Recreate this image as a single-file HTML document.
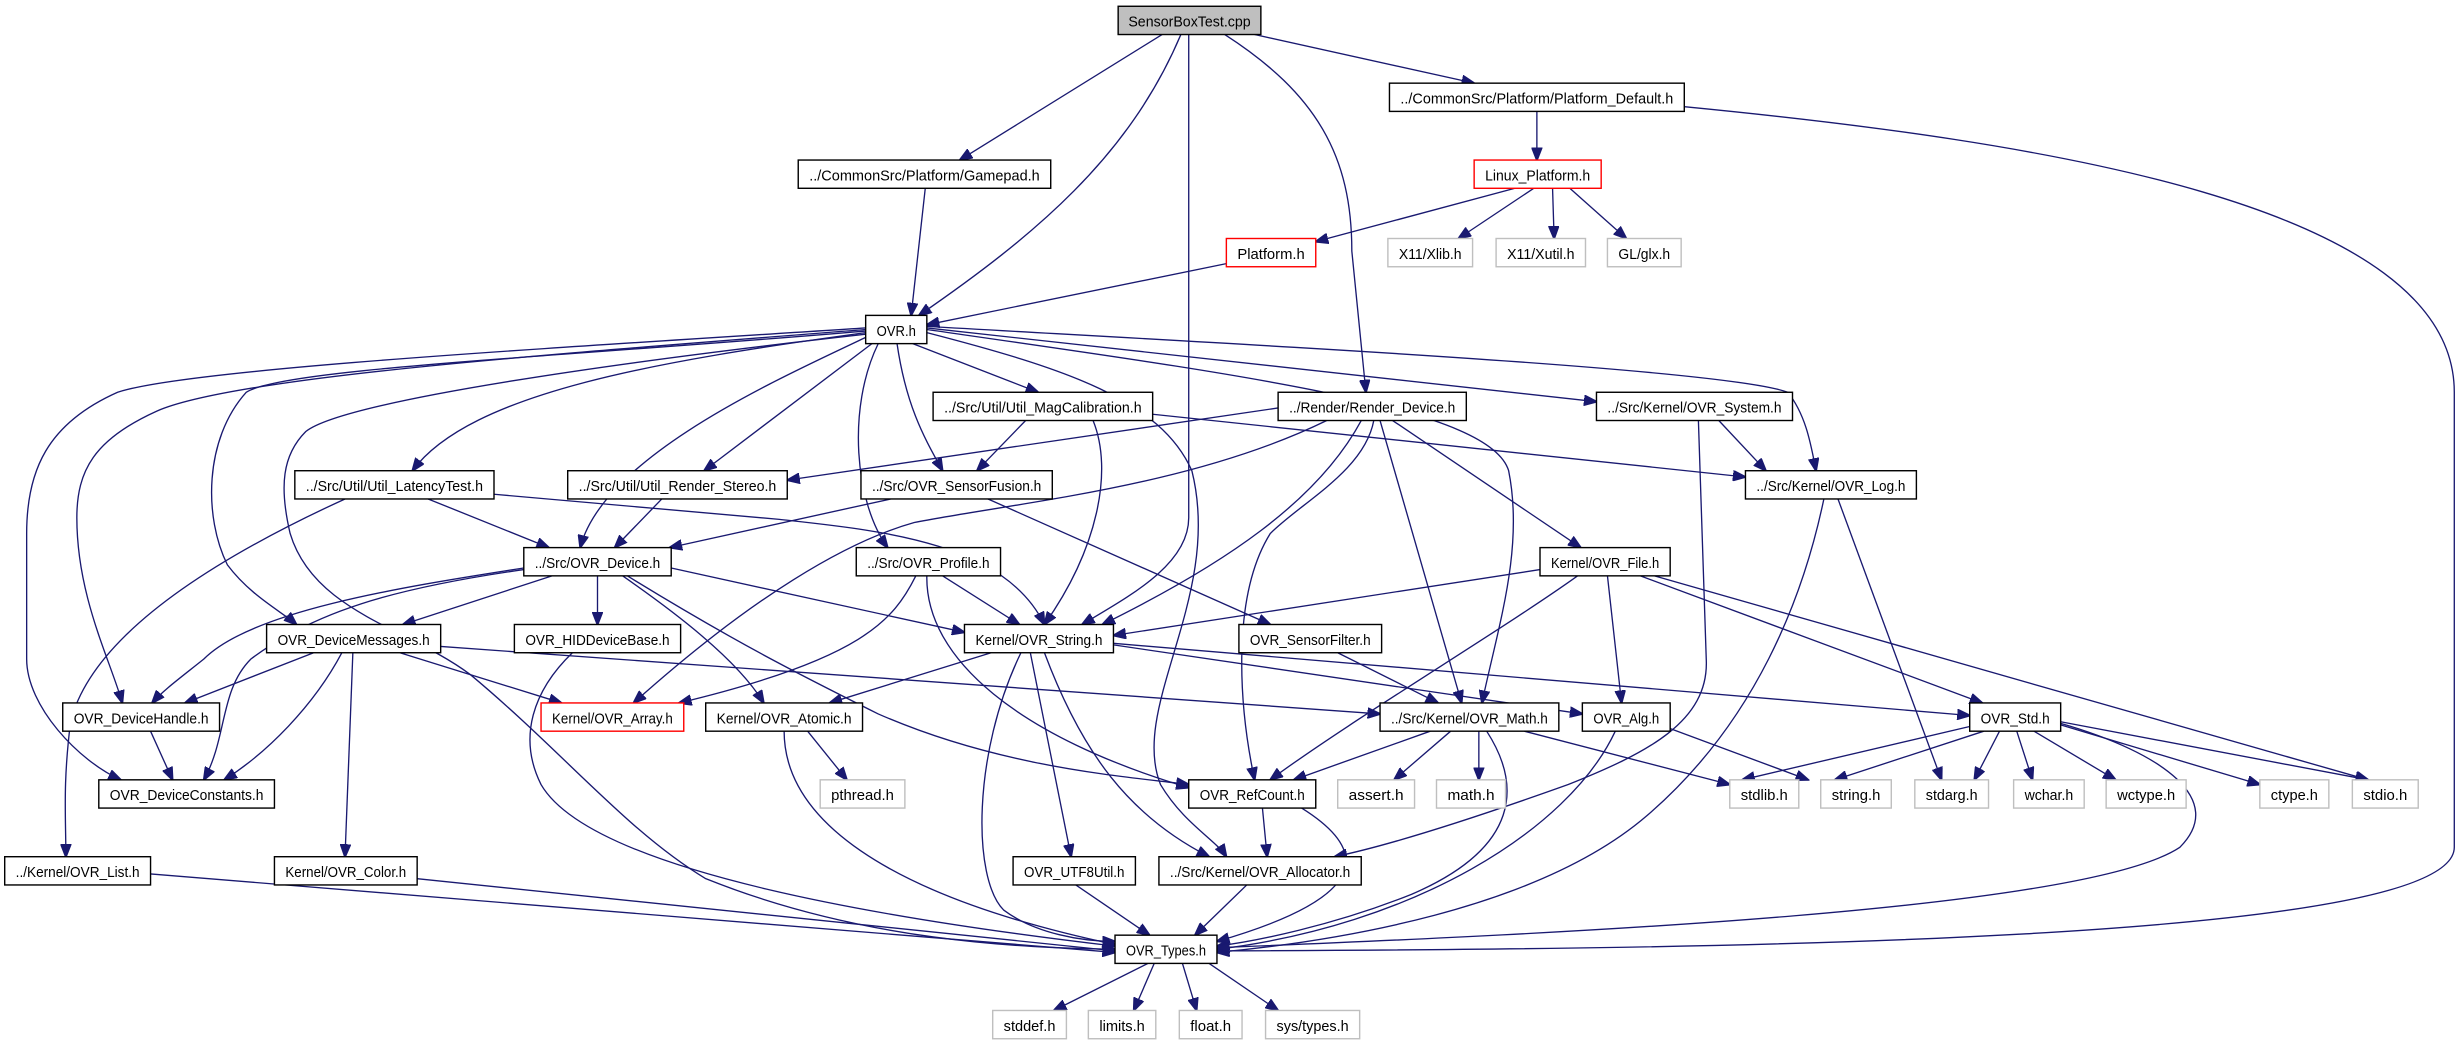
<!DOCTYPE html>
<html><head><meta charset="utf-8"><style>
html,body{margin:0;padding:0;background:#fff;}
svg{display:block;}
text{font-family:"Liberation Sans",sans-serif;font-size:9.6px;fill:#000;}
.e{fill:none;stroke:#191970;stroke-width:0.85;}
.n{fill:#fff;stroke:#000;stroke-width:0.9;}
.g{fill:#fff;stroke:#bfbfbf;stroke-width:0.9;}
.r{fill:#fff;stroke:#ff0000;stroke-width:0.9;}
</style></head><body>
<svg width="2459" height="1045" viewBox="0 0 1568 666" preserveAspectRatio="none" xmlns="http://www.w3.org/2000/svg">
<defs><marker id="a" markerUnits="userSpaceOnUse" markerWidth="9" markerHeight="7" refX="8" refY="3.5" orient="auto"><path d="M0,0 L9,3.5 L0,7 z" fill="#191970" stroke="#191970" stroke-width="0.5"/></marker></defs>
<g class="e" marker-end="url(#a)">
<path d="M741,22 L612,102"/>
<path d="M753,22 C720,100 660,150 586,201"/>
<path d="M758,22 L758,330 C758,360 720,380 690,398"/>
<path d="M781,22 C840,60 862,100 862,160 L871,250"/>
<path d="M800,22 L940,53"/>
<path d="M980,71 L980,102"/>
<path d="M1074,68 C1300,90 1565,130 1565,250 L1565,540 C1565,600 1100,605 776,606"/>
<path d="M966,120 L839,154"/>
<path d="M978,120 L930,152"/>
<path d="M990,120 L991,152"/>
<path d="M1001,120 L1037,152"/>
<path d="M782,168 L591,207"/>
<path d="M590,120 L581,201"/>
<path d="M582,219 L662,250"/>
<path d="M556,219 L449,300"/>
<path d="M572,219 C578,260 590,280 601,300"/>
<path d="M552,212 C420,230 300,250 263,300"/>
<path d="M552,215 C500,240 385,290 370,349"/>
<path d="M560,219 C540,260 545,320 566,349"/>
<path d="M552,211 C350,228 180,235 157,250 C130,280 130,330 145,360 C160,380 180,390 189,398"/>
<path d="M552,210 C350,226 150,240 100,262 C60,280 49,300 49,330 C49,380 70,420 78,448"/>
<path d="M552,209 C350,222 120,235 75,250 C30,270 17,300 17,340 L17,420 C17,450 50,485 77,497"/>
<path d="M552,213 C400,230 220,255 195,275 C180,290 178,310 185,340 C200,390 260,400 300,430 C360,480 400,530 450,560 C550,600 650,604 711,605"/>
<path d="M591,209 L1018,256"/>
<path d="M591,208 C800,220 1100,235 1140,250 C1152,265 1155,285 1158,300"/>
<path d="M591,210 C800,240 950,260 962,300 C972,350 955,400 945,448"/>
<path d="M591,212 C680,235 740,255 760,300 C780,380 720,450 740,500 C755,525 775,535 782,546"/>
<path d="M815,260 L502,306"/>
<path d="M846,268 C760,310 650,320 583,333 C540,345 480,380 404,448"/>
<path d="M868,268 C840,320 780,360 703,398"/>
<path d="M876,268 C870,300 830,320 810,340 C785,380 790,450 800,497"/>
<path d="M880,268 L932,448"/>
<path d="M888,268 L1008,349"/>
<path d="M654,268 L623,300"/>
<path d="M697,268 C710,300 700,350 666,398"/>
<path d="M735,264 L1113,304"/>
<path d="M1096,268 L1126,300"/>
<path d="M1083,268 L1088,420 C1090,460 1050,480 1000,500 C930,525 880,540 851,546"/>
<path d="M1163,318 C1150,380 1120,460 1050,520 C980,580 850,600 776,607"/>
<path d="M1172,318 L1238,497"/>
<path d="M273,318 L350,349"/>
<path d="M315,315 L497,331 C560,338 640,345 666,398"/>
<path d="M220,318 C150,350 60,400 45,460 C40,500 42,520 42,546"/>
<path d="M422,318 L392,349"/>
<path d="M568,318 L427,349"/>
<path d="M630,318 L810,398"/>
<path d="M352,367 L257,398"/>
<path d="M381,367 L381,398"/>
<path d="M334,362 C250,375 160,390 130,420 C115,432 104,440 97,448"/>
<path d="M334,363 C250,375 200,390 160,420 C140,440 145,470 130,497"/>
<path d="M397,367 C430,390 470,420 487,448"/>
<path d="M400,367 C470,410 510,430 560,455 C640,490 720,495 758,500"/>
<path d="M428,362 L615,403"/>
<path d="M601,367 L650,398"/>
<path d="M584,367 C570,395 550,420 433,448"/>
<path d="M591,367 C590,420 650,470 758,502"/>
<path d="M982,363 L710,405"/>
<path d="M1006,367 C960,400 860,460 810,497"/>
<path d="M1025,367 L1034,448"/>
<path d="M1046,367 L1264,448"/>
<path d="M1055,367 L1510,497"/>
<path d="M200,416 L118,448"/>
<path d="M218,416 C200,450 170,480 143,497"/>
<path d="M225,416 L220,546"/>
<path d="M255,416 L358,448"/>
<path d="M281,412 L880,455"/>
<path d="M365,416 C340,440 330,470 345,500 C380,560 600,590 711,603"/>
<path d="M632,416 L529,448"/>
<path d="M651,416 C620,480 620,560 640,580 C660,595 690,600 711,600"/>
<path d="M657,416 L683,546"/>
<path d="M666,416 C690,480 720,520 771,546"/>
<path d="M710,411 L1009,455"/>
<path d="M710,410 L1256,456"/>
<path d="M853,416 L917,448"/>
<path d="M912,466 L825,497"/>
<path d="M925,466 L889,497"/>
<path d="M943,466 L943,497"/>
<path d="M948,466 C970,500 970,540 900,570 C850,590 800,600 776,603"/>
<path d="M972,466 L1103,500"/>
<path d="M1030,466 C1000,530 900,590 776,605"/>
<path d="M1064,464 L1153,497"/>
<path d="M1256,463 L1111,497"/>
<path d="M1265,466 L1170,497"/>
<path d="M1275,466 L1259,497"/>
<path d="M1286,466 L1296,497"/>
<path d="M1297,466 L1349,497"/>
<path d="M1314,462 L1441,500"/>
<path d="M1314,460 L1510,497"/>
<path d="M1314,461 C1380,480 1420,510 1390,540 C1330,580 1000,595 776,604"/>
<path d="M96,466 L110,497"/>
<path d="M515,466 L540,497"/>
<path d="M500,466 C500,520 560,570 711,602"/>
<path d="M805,515 L808,546"/>
<path d="M830,515 C870,540 880,570 776,600"/>
<path d="M96,557 L711,607"/>
<path d="M266,560 L711,606"/>
<path d="M686,564 L733,596"/>
<path d="M795,564 L762,596"/>
<path d="M732,614 L672,644"/>
<path d="M736,614 L723,644"/>
<path d="M754,614 L763,644"/>
<path d="M771,614 L815,644"/>
</g>
<g text-anchor="middle">
<rect x="713" y="4" width="91" height="18" fill="#bfbfbf" stroke="#000" stroke-width="0.9"/><text x="758.5" y="17" textLength="78" lengthAdjust="spacingAndGlyphs">SensorBoxTest.cpp</text>
<rect class="n" x="886" y="53" width="188" height="18"/><text x="980" y="66" textLength="174" lengthAdjust="spacingAndGlyphs">../CommonSrc/Platform/Platform_Default.h</text>
<rect class="n" x="509" y="102" width="161" height="18"/><text x="589.5" y="115" textLength="147" lengthAdjust="spacingAndGlyphs">../CommonSrc/Platform/Gamepad.h</text>
<rect class="r" x="940" y="102" width="81" height="18"/><text x="980.5" y="115" textLength="67" lengthAdjust="spacingAndGlyphs">Linux_Platform.h</text>
<rect class="r" x="782" y="152" width="57" height="18"/><text x="810.5" y="165" textLength="43" lengthAdjust="spacingAndGlyphs">Platform.h</text>
<rect class="g" x="885" y="152" width="54" height="18"/><text x="912" y="165" textLength="40" lengthAdjust="spacingAndGlyphs">X11/Xlib.h</text>
<rect class="g" x="954" y="152" width="57" height="18"/><text x="982.5" y="165" textLength="43" lengthAdjust="spacingAndGlyphs">X11/Xutil.h</text>
<rect class="g" x="1025" y="152" width="47" height="18"/><text x="1048.5" y="165" textLength="33" lengthAdjust="spacingAndGlyphs">GL/glx.h</text>
<rect class="n" x="552" y="201" width="39" height="18"/><text x="571.5" y="214" textLength="25" lengthAdjust="spacingAndGlyphs">OVR.h</text>
<rect class="n" x="595" y="250" width="140" height="18"/><text x="665" y="263" textLength="126" lengthAdjust="spacingAndGlyphs">../Src/Util/Util_MagCalibration.h</text>
<rect class="n" x="815" y="250" width="120" height="18"/><text x="875" y="263" textLength="106" lengthAdjust="spacingAndGlyphs">../Render/Render_Device.h</text>
<rect class="n" x="1018" y="250" width="125" height="18"/><text x="1080.5" y="263" textLength="111" lengthAdjust="spacingAndGlyphs">../Src/Kernel/OVR_System.h</text>
<rect class="n" x="188" y="300" width="127" height="18"/><text x="251.5" y="313" textLength="113" lengthAdjust="spacingAndGlyphs">../Src/Util/Util_LatencyTest.h</text>
<rect class="n" x="362" y="300" width="140" height="18"/><text x="432" y="313" textLength="126" lengthAdjust="spacingAndGlyphs">../Src/Util/Util_Render_Stereo.h</text>
<rect class="n" x="549" y="300" width="122" height="18"/><text x="610" y="313" textLength="108" lengthAdjust="spacingAndGlyphs">../Src/OVR_SensorFusion.h</text>
<rect class="n" x="1113" y="300" width="109" height="18"/><text x="1167.5" y="313" textLength="95" lengthAdjust="spacingAndGlyphs">../Src/Kernel/OVR_Log.h</text>
<rect class="n" x="334" y="349" width="94" height="18"/><text x="381" y="362" textLength="80" lengthAdjust="spacingAndGlyphs">../Src/OVR_Device.h</text>
<rect class="n" x="546" y="349" width="92" height="18"/><text x="592" y="362" textLength="78" lengthAdjust="spacingAndGlyphs">../Src/OVR_Profile.h</text>
<rect class="n" x="982" y="349" width="83" height="18"/><text x="1023.5" y="362" textLength="69" lengthAdjust="spacingAndGlyphs">Kernel/OVR_File.h</text>
<rect class="n" x="170" y="398" width="111" height="18"/><text x="225.5" y="411" textLength="97" lengthAdjust="spacingAndGlyphs">OVR_DeviceMessages.h</text>
<rect class="n" x="328" y="398" width="106" height="18"/><text x="381" y="411" textLength="92" lengthAdjust="spacingAndGlyphs">OVR_HIDDeviceBase.h</text>
<rect class="n" x="615" y="398" width="95" height="18"/><text x="662.5" y="411" textLength="81" lengthAdjust="spacingAndGlyphs">Kernel/OVR_String.h</text>
<rect class="n" x="790" y="398" width="91" height="18"/><text x="835.5" y="411" textLength="77" lengthAdjust="spacingAndGlyphs">OVR_SensorFilter.h</text>
<rect class="n" x="40" y="448" width="100" height="18"/><text x="90" y="461" textLength="86" lengthAdjust="spacingAndGlyphs">OVR_DeviceHandle.h</text>
<rect class="r" x="345" y="448" width="91" height="18"/><text x="390.5" y="461" textLength="77" lengthAdjust="spacingAndGlyphs">Kernel/OVR_Array.h</text>
<rect class="n" x="450" y="448" width="100" height="18"/><text x="500" y="461" textLength="86" lengthAdjust="spacingAndGlyphs">Kernel/OVR_Atomic.h</text>
<rect class="n" x="880" y="448" width="114" height="18"/><text x="937" y="461" textLength="100" lengthAdjust="spacingAndGlyphs">../Src/Kernel/OVR_Math.h</text>
<rect class="n" x="1009" y="448" width="56" height="18"/><text x="1037" y="461" textLength="42" lengthAdjust="spacingAndGlyphs">OVR_Alg.h</text>
<rect class="n" x="1256" y="448" width="58" height="18"/><text x="1285" y="461" textLength="44" lengthAdjust="spacingAndGlyphs">OVR_Std.h</text>
<rect class="n" x="63" y="497" width="112" height="18"/><text x="119" y="510" textLength="98" lengthAdjust="spacingAndGlyphs">OVR_DeviceConstants.h</text>
<rect class="g" x="523" y="497" width="54" height="18"/><text x="550" y="510" textLength="40" lengthAdjust="spacingAndGlyphs">pthread.h</text>
<rect class="n" x="758" y="497" width="81" height="18"/><text x="798.5" y="510" textLength="67" lengthAdjust="spacingAndGlyphs">OVR_RefCount.h</text>
<rect class="g" x="853" y="497" width="49" height="18"/><text x="877.5" y="510" textLength="35" lengthAdjust="spacingAndGlyphs">assert.h</text>
<rect class="g" x="916" y="497" width="44" height="18"/><text x="938" y="510" textLength="30" lengthAdjust="spacingAndGlyphs">math.h</text>
<rect class="g" x="1103" y="497" width="44" height="18"/><text x="1125" y="510" textLength="30" lengthAdjust="spacingAndGlyphs">stdlib.h</text>
<rect class="g" x="1161" y="497" width="45" height="18"/><text x="1183.5" y="510" textLength="31" lengthAdjust="spacingAndGlyphs">string.h</text>
<rect class="g" x="1221" y="497" width="47" height="18"/><text x="1244.5" y="510" textLength="33" lengthAdjust="spacingAndGlyphs">stdarg.h</text>
<rect class="g" x="1284" y="497" width="45" height="18"/><text x="1306.5" y="510" textLength="31" lengthAdjust="spacingAndGlyphs">wchar.h</text>
<rect class="g" x="1343" y="497" width="51" height="18"/><text x="1368.5" y="510" textLength="37" lengthAdjust="spacingAndGlyphs">wctype.h</text>
<rect class="g" x="1441" y="497" width="44" height="18"/><text x="1463" y="510" textLength="30" lengthAdjust="spacingAndGlyphs">ctype.h</text>
<rect class="g" x="1500" y="497" width="42" height="18"/><text x="1521" y="510" textLength="28" lengthAdjust="spacingAndGlyphs">stdio.h</text>
<rect class="n" x="3" y="546" width="93" height="18"/><text x="49.5" y="559" textLength="79" lengthAdjust="spacingAndGlyphs">../Kernel/OVR_List.h</text>
<rect class="n" x="175" y="546" width="91" height="18"/><text x="220.5" y="559" textLength="77" lengthAdjust="spacingAndGlyphs">Kernel/OVR_Color.h</text>
<rect class="n" x="646" y="546" width="78" height="18"/><text x="685" y="559" textLength="64" lengthAdjust="spacingAndGlyphs">OVR_UTF8Util.h</text>
<rect class="n" x="739" y="546" width="129" height="18"/><text x="803.5" y="559" textLength="115" lengthAdjust="spacingAndGlyphs">../Src/Kernel/OVR_Allocator.h</text>
<rect class="n" x="711" y="596" width="65" height="18"/><text x="743.5" y="609" textLength="51" lengthAdjust="spacingAndGlyphs">OVR_Types.h</text>
<rect class="g" x="633" y="644" width="47" height="18"/><text x="656.5" y="657" textLength="33" lengthAdjust="spacingAndGlyphs">stddef.h</text>
<rect class="g" x="694" y="644" width="43" height="18"/><text x="715.5" y="657" textLength="29" lengthAdjust="spacingAndGlyphs">limits.h</text>
<rect class="g" x="752" y="644" width="40" height="18"/><text x="772" y="657" textLength="26" lengthAdjust="spacingAndGlyphs">float.h</text>
<rect class="g" x="807" y="644" width="60" height="18"/><text x="837" y="657" textLength="46" lengthAdjust="spacingAndGlyphs">sys/types.h</text>
</g>
</svg>
</body></html>
